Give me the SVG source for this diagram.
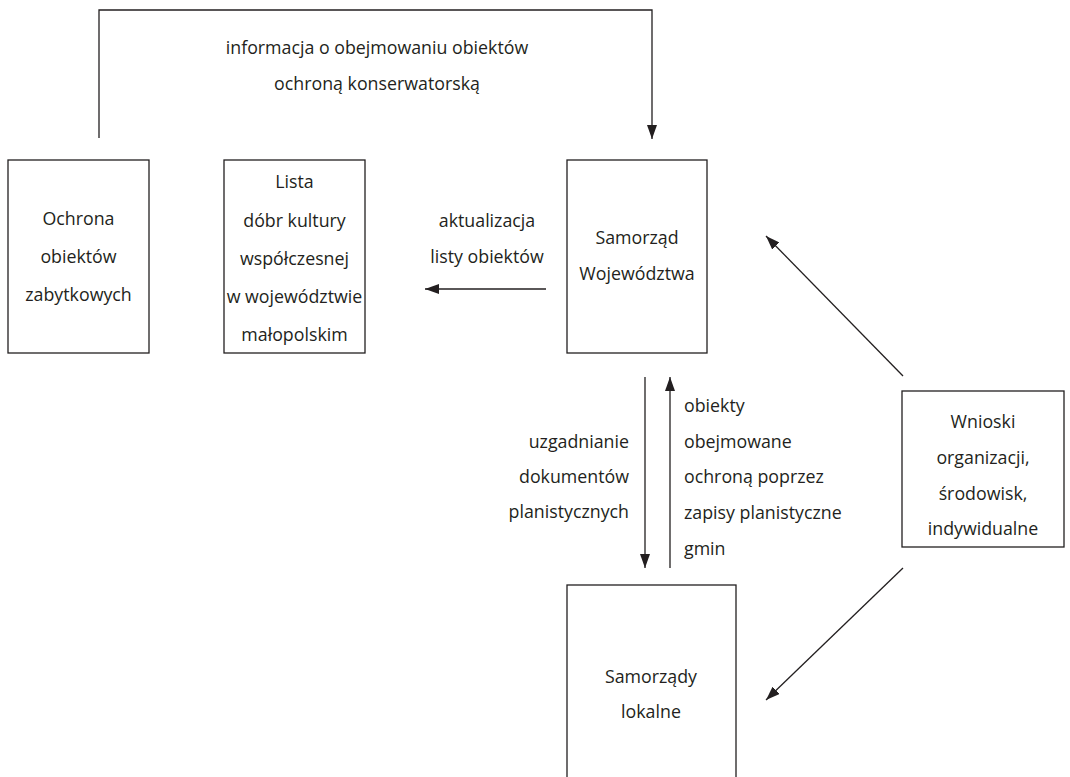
<svg xmlns="http://www.w3.org/2000/svg" width="1070" height="777" viewBox="0 0 1070 777">
<style>
.box{fill:#fff;stroke:#231f20;stroke-width:1.3}
.ln{fill:none;stroke:#231f20;stroke-width:1.3}
text{font-family:"Open Sans","DejaVu Sans",sans-serif;font-size:17.8px;fill:#231f20}
.c{text-anchor:middle}
.r{text-anchor:end}
</style>
<defs>
<marker id="ah" viewBox="0 0 14 10" refX="14" refY="5" markerWidth="14" markerHeight="10" markerUnits="userSpaceOnUse" orient="auto">
<path d="M0,0 L14,5 L0,10 Z" fill="#231f20"/>
</marker>
</defs>
<rect width="1070" height="777" fill="#fff"/>
<g id="connectors">
<path class="ln" d="M99,138 V10 H652 V139" marker-end="url(#ah)"/>
<line class="ln" x1="546" y1="289" x2="425" y2="289" marker-end="url(#ah)"/>
<line class="ln" x1="903" y1="376" x2="766" y2="236" marker-end="url(#ah)"/>
<line class="ln" x1="903" y1="568" x2="766" y2="700" marker-end="url(#ah)"/>
<line class="ln" x1="645" y1="377" x2="645" y2="568" marker-end="url(#ah)"/>
<line class="ln" x1="670" y1="568" x2="670" y2="377" marker-end="url(#ah)"/>
<text class="c" x="377" y="54">informacja o obejmowaniu obiektów</text>
<text class="c" x="377" y="90">ochroną konserwatorską</text>
<text class="c" x="487" y="227">aktualizacja</text>
<text class="c" x="487" y="263">listy obiektów</text>
<text class="r" x="629" y="448">uzgadnianie</text>
<text class="r" x="629" y="483">dokumentów</text>
<text class="r" x="629" y="518">planistycznych</text>
<text x="684" y="412">obiekty</text>
<text x="684" y="448">obejmowane</text>
<text x="684" y="483">ochroną poprzez</text>
<text x="684" y="519">zapisy planistyczne</text>
<text x="684" y="555">gmin</text>
</g>
<g id="ochrona">
<rect class="box" x="8" y="160" width="141" height="193"/>
<text class="c" x="78.5" y="225">Ochrona</text>
<text class="c" x="78.5" y="263">obiektów</text>
<text class="c" x="78.5" y="301">zabytkowych</text>
</g>
<g id="lista">
<rect class="box" x="224" y="160" width="141" height="193"/>
<text class="c" x="294.5" y="188">Lista</text>
<text class="c" x="294.5" y="227">dóbr kultury</text>
<text class="c" x="294.5" y="265">współczesnej</text>
<text class="c" x="294.5" y="303">w województwie</text>
<text class="c" x="294.5" y="341">małopolskim</text>
</g>
<g id="samorzad-wojewodztwa">
<rect class="box" x="567" y="160" width="140" height="193"/>
<text class="c" x="637" y="244">Samorząd</text>
<text class="c" x="637" y="280">Województwa</text>
</g>
<g id="wnioski">
<rect class="box" x="902" y="391" width="162" height="156"/>
<text class="c" x="983" y="428">Wnioski</text>
<text class="c" x="983" y="464">organizacji,</text>
<text class="c" x="983" y="500">środowisk,</text>
<text class="c" x="983" y="535">indywidualne</text>
</g>
<g id="samorzady-lokalne">
<rect class="box" x="567" y="585" width="169" height="200"/>
<text class="c" x="651" y="683">Samorządy</text>
<text class="c" x="651" y="718">lokalne</text>
</g>
</svg>
